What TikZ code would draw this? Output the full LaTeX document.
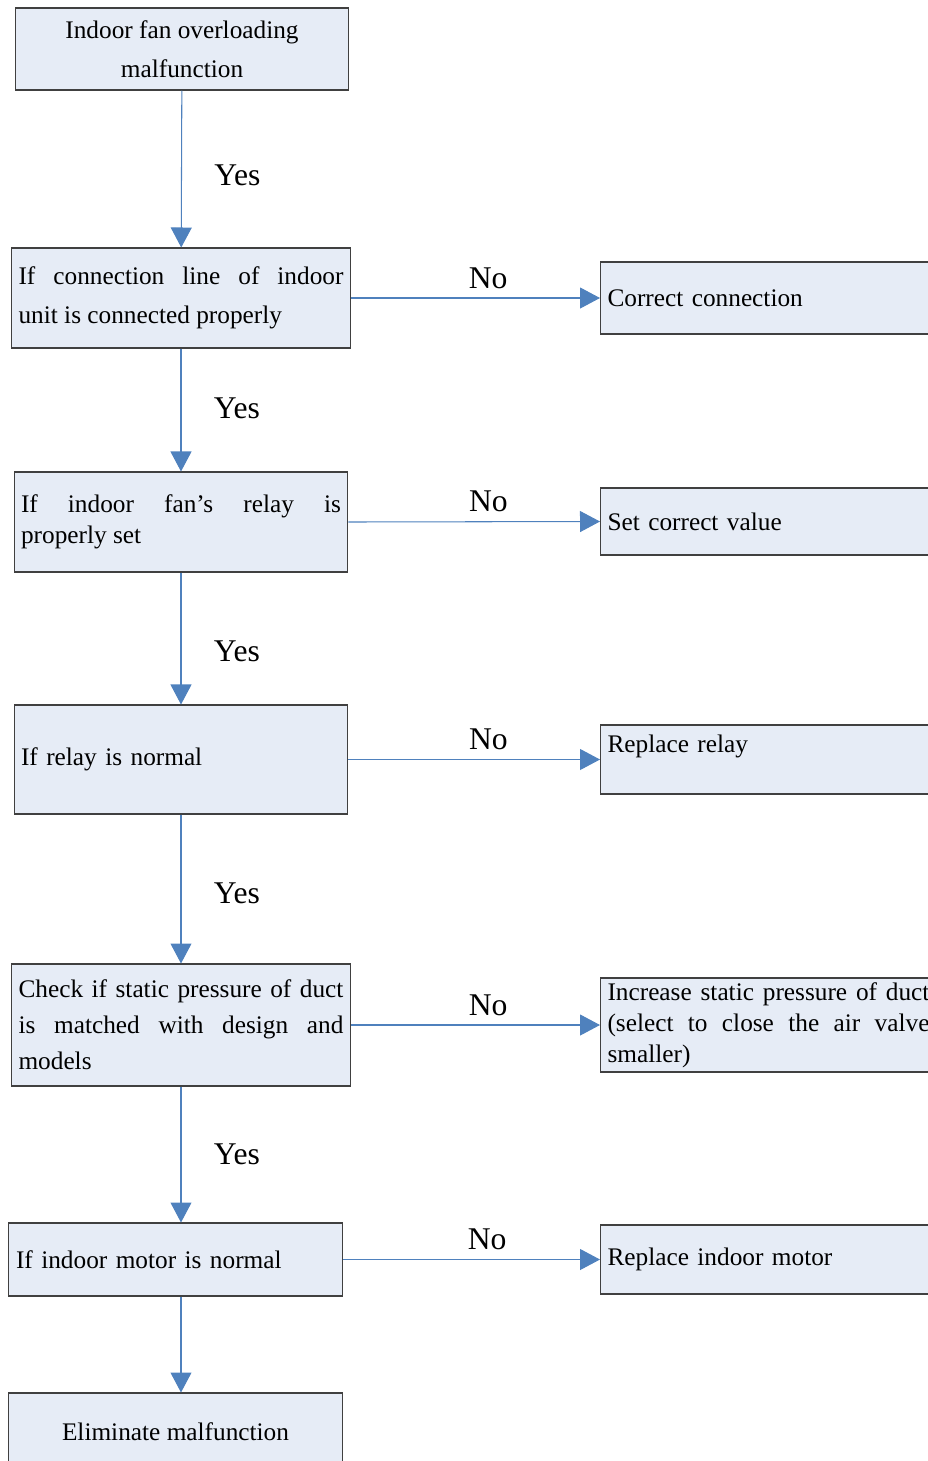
\documentclass[tikz,border=0pt]{standalone}
\usepackage{fontspec}
\setmainfont{Liberation Serif}
\usetikzlibrary{arrows.meta}
\definecolor{boxfill}{HTML}{E6ECF6}
\definecolor{boxline}{HTML}{404040}
\definecolor{linkblue}{HTML}{4F81BD}

\begin{document}
\begin{tikzpicture}[x=0.02cm,y=-0.02cm,
  box/.style={draw=boxline,fill=boxfill,line width=0.6pt,inner xsep=0.15cm,inner ysep=0pt,font=\fontsize{14.4}{22}\selectfont},
  link/.style={draw=linkblue,line width=0.6pt,-{Triangle[width=0.42cm,length=0.4cm]}},
  yeslabel/.style={font=\fontsize{18}{20}\selectfont,xshift=1.12cm},
  nolabel/.style={font=\fontsize{18}{20}\selectfont,yshift=0.4cm}]
\useasboundingbox (0,0) rectangle (927,1461);
\node[box,minimum width=6.68cm,minimum height=1.64cm,align=center] (start) at (182,49) {Indoor fan overloading\\malfunction};
\node[box,text width=6.5cm,minimum height=2cm,align=justify] (line) at (181,298) {If connection line of indoor\linebreak unit is connected properly};
\node[box,text width=6.4cm,inner xsep=0.14cm,minimum height=2cm,align=justify,font=\fontsize{14.4}{17.6}\selectfont] (relayset) at (181,522) {If indoor fan’s relay is\linebreak properly set};
\node[box,text width=6.4cm,inner xsep=0.14cm,minimum height=2.18cm,align=left] (relay) at (181,759.5) {If relay is normal};
\node[box,text width=6.5cm,minimum height=2.44cm,align=justify,font=\fontsize{14.4}{20.4}\selectfont] (duct) at (181,1025) {Check if static pressure of duct\linebreak is matched with design and\linebreak models};
\node[box,text width=6.38cm,inner xsep=0.16cm,minimum height=1.46cm,align=left] (motor) at (175.5,1259.5) {If indoor motor is normal};
\node[box,minimum width=6.7cm,minimum height=1.54cm,align=center] (finish) at (175.5,1431.5) {Eliminate malfunction};

\node[box,anchor=west,text width=6.92cm,inner xsep=0.14cm,minimum height=1.44cm,align=left] (conn) at (600,298) {Correct connection};
\node[box,anchor=west,text width=6.92cm,inner xsep=0.14cm,minimum height=1.34cm,align=left] (setval) at (600,521.5) {Set correct value};
\node[box,anchor=west,text width=6.92cm,inner xsep=0.14cm,minimum height=1.38cm,align=left,font=\fontsize{14.4}{17.6}\selectfont] (newrelay) at (600,759.5) {Replace relay\\\mbox{}};
\node[box,anchor=west,text width=6.44cm,inner xsep=0.14cm,minimum height=1.88cm,align=justify,font=\fontsize{14.4}{17.6}\selectfont] (pressure) at (600,1025) {Increase static pressure of duct\linebreak (select to close the air valve\linebreak smaller)};
\node[box,anchor=west,text width=6.92cm,inner xsep=0.14cm,minimum height=1.38cm,align=left] (newmotor) at (600,1259.5) {Replace indoor motor};

\draw[link] (start) -- (line) node[yeslabel,pos=0.54]{Yes};
\draw[link] (line) -- (relayset) node[yeslabel,pos=0.49]{Yes};
\draw[link] (relayset) -- (relay) node[yeslabel,pos=0.6]{Yes};
\draw[link] (relay) -- (duct) node[yeslabel,pos=0.53]{Yes};
\draw[link] (duct.south) -- (duct.south |- motor.north) node[yeslabel,pos=0.5]{Yes};
\draw[link] (motor.south -| duct.south) -- (finish.north -| duct.south);

\draw[link] (line.east) -- (conn.west) node[nolabel,pos=0.55]{No};
\draw[link] (relayset.east) -- (setval.west) node[nolabel,pos=0.556]{No};
\draw[link] (relay.east) -- (newrelay.west) node[nolabel,pos=0.556]{No};
\draw[link] (duct.east) -- (pressure.west) node[nolabel,pos=0.55]{No};
\draw[link] (motor.east) -- (newmotor.west) node[nolabel,pos=0.56]{No};
\end{tikzpicture}
\end{document}
